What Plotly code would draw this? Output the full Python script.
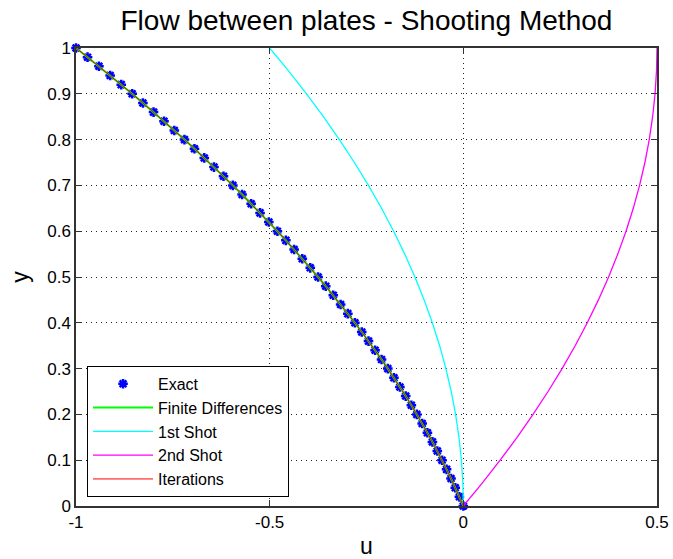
import plotly.graph_objects as go

# Exact solution samples (y step 0.02)
y_exact = [0.00, 0.02, 0.04, 0.06, 0.08, 0.10, 0.12, 0.14, 0.16, 0.18,
           0.20, 0.22, 0.24, 0.26, 0.28, 0.30, 0.32, 0.34, 0.36, 0.38,
           0.40, 0.42, 0.44, 0.46, 0.48, 0.50, 0.52, 0.54, 0.56, 0.58,
           0.60, 0.62, 0.64, 0.66, 0.68, 0.70, 0.72, 0.74, 0.76, 0.78,
           0.80, 0.82, 0.84, 0.86, 0.88, 0.90, 0.92, 0.94, 0.96, 0.98, 1.00]
u_exact = [0.0, -0.0102, -0.0208, -0.0318, -0.0432, -0.055, -0.0672, -0.0798, -0.0928, -0.1062,
           -0.12, -0.1342, -0.1488, -0.1638, -0.1792, -0.195, -0.2112, -0.2278, -0.2448, -0.2622,
           -0.28, -0.2982, -0.3168, -0.3358, -0.3552, -0.375, -0.3952, -0.4158, -0.4368, -0.4582,
           -0.48, -0.5022, -0.5248, -0.5478, -0.5712, -0.595, -0.6192, -0.6438, -0.6688, -0.6942,
           -0.72, -0.7462, -0.7728, -0.7998, -0.8272, -0.855, -0.8832, -0.9118, -0.9408, -0.9702, -1.0]

# Finite differences and iterations (same grid)
y_fd = y_exact
u_fd = u_exact
y_it = y_exact
u_it = u_exact

# Shots (y step 0.05)
y_shot = [0.00, 0.05, 0.10, 0.15, 0.20, 0.25, 0.30, 0.35, 0.40, 0.45, 0.50,
          0.55, 0.60, 0.65, 0.70, 0.75, 0.80, 0.85, 0.90, 0.95, 1.00]
u_shot1 = [0.0, -0.00125, -0.005, -0.01125, -0.02, -0.03125, -0.045, -0.06125, -0.08, -0.10125, -0.125,
           -0.15125, -0.18, -0.21125, -0.245, -0.28125, -0.32, -0.36125, -0.405, -0.45125, -0.5]
u_shot2 = [0.0, 0.04875, 0.095, 0.13875, 0.18, 0.21875, 0.255, 0.28875, 0.32, 0.34875, 0.375,
           0.39875, 0.42, 0.43875, 0.455, 0.46875, 0.48, 0.48875, 0.495, 0.49875, 0.5]

x_ticks = [-1, -0.5, 0, 0.5]
x_tick_text = ["-1", "-0.5", "0", "0.5"]
y_ticks = [0, 0.1, 0.2, 0.3, 0.4, 0.5, 0.6, 0.7, 0.8, 0.9, 1]
y_tick_text = ["0", "0.1", "0.2", "0.3", "0.4", "0.5", "0.6", "0.7", "0.8", "0.9", "1"]

fig = go.Figure()
fig.add_trace(go.Scatter(x=u_exact, y=y_exact, mode="markers", name="Exact",
                         marker=dict(symbol="asterisk-open", size=8, color="#0000FF",
                                     line=dict(color="#0000FF", width=2.5)),
                         cliponaxis=False))
fig.add_trace(go.Scatter(x=u_fd, y=y_fd, mode="lines", name="Finite Differences",
                         line=dict(color="#00FF00", width=2)))
fig.add_trace(go.Scatter(x=u_shot1, y=y_shot, mode="lines", name="1st Shot",
                         line=dict(color="#00FFFF", width=1.3)))
fig.add_trace(go.Scatter(x=u_shot2, y=y_shot, mode="lines", name="2nd Shot",
                         line=dict(color="#FF00FF", width=1.3)))
fig.add_trace(go.Scatter(x=u_it, y=y_it, mode="lines", name="Iterations",
                         line=dict(color="#FF0000", width=1)))

font = "Liberation Sans, Arial, sans-serif"
fig.update_layout(
    width=673, height=559,
    margin=dict(l=76, r=16, t=48, b=53, autoexpand=False),
    paper_bgcolor="white", plot_bgcolor="white",
    font=dict(family=font, size=16, color="#000000"),
    title=dict(text="Flow between plates - Shooting Method", x=0.5445, xanchor="center",
               y=0.964, yanchor="middle", font=dict(size=28, family=font, color="#000")),
    showlegend=True,
    legend=dict(x=0.019, y=0.02, xanchor="left", yanchor="bottom",
                bgcolor="white", bordercolor="#000", borderwidth=1,
                font=dict(size=16, family=font), tracegroupgap=0, itemwidth=60),
)
fig.update_xaxes(range=[-1, 0.5], tickvals=x_ticks, ticktext=x_tick_text, automargin=False,
                 showgrid=True, gridcolor="#222", griddash="1px,4px", gridwidth=1.2,
                 zeroline=False, showline=True, linecolor="#333", linewidth=1.5, mirror="ticks",
                 ticks="inside", ticklen=6, tickcolor="#333",
                 tickfont=dict(size=17), title=dict(text="u", font=dict(size=23), standoff=12))
fig.update_yaxes(range=[0, 1], tickvals=y_ticks, ticktext=y_tick_text, automargin=False,
                 showgrid=True, gridcolor="#222", griddash="1px,4px", gridwidth=1.2,
                 zeroline=False, showline=True, linecolor="#333", linewidth=1.5, mirror="ticks",
                 ticks="inside", ticklen=6, tickcolor="#333",
                 tickfont=dict(size=17), title=dict(text="y", font=dict(size=23), standoff=12))

fig.write_html("out.html")
